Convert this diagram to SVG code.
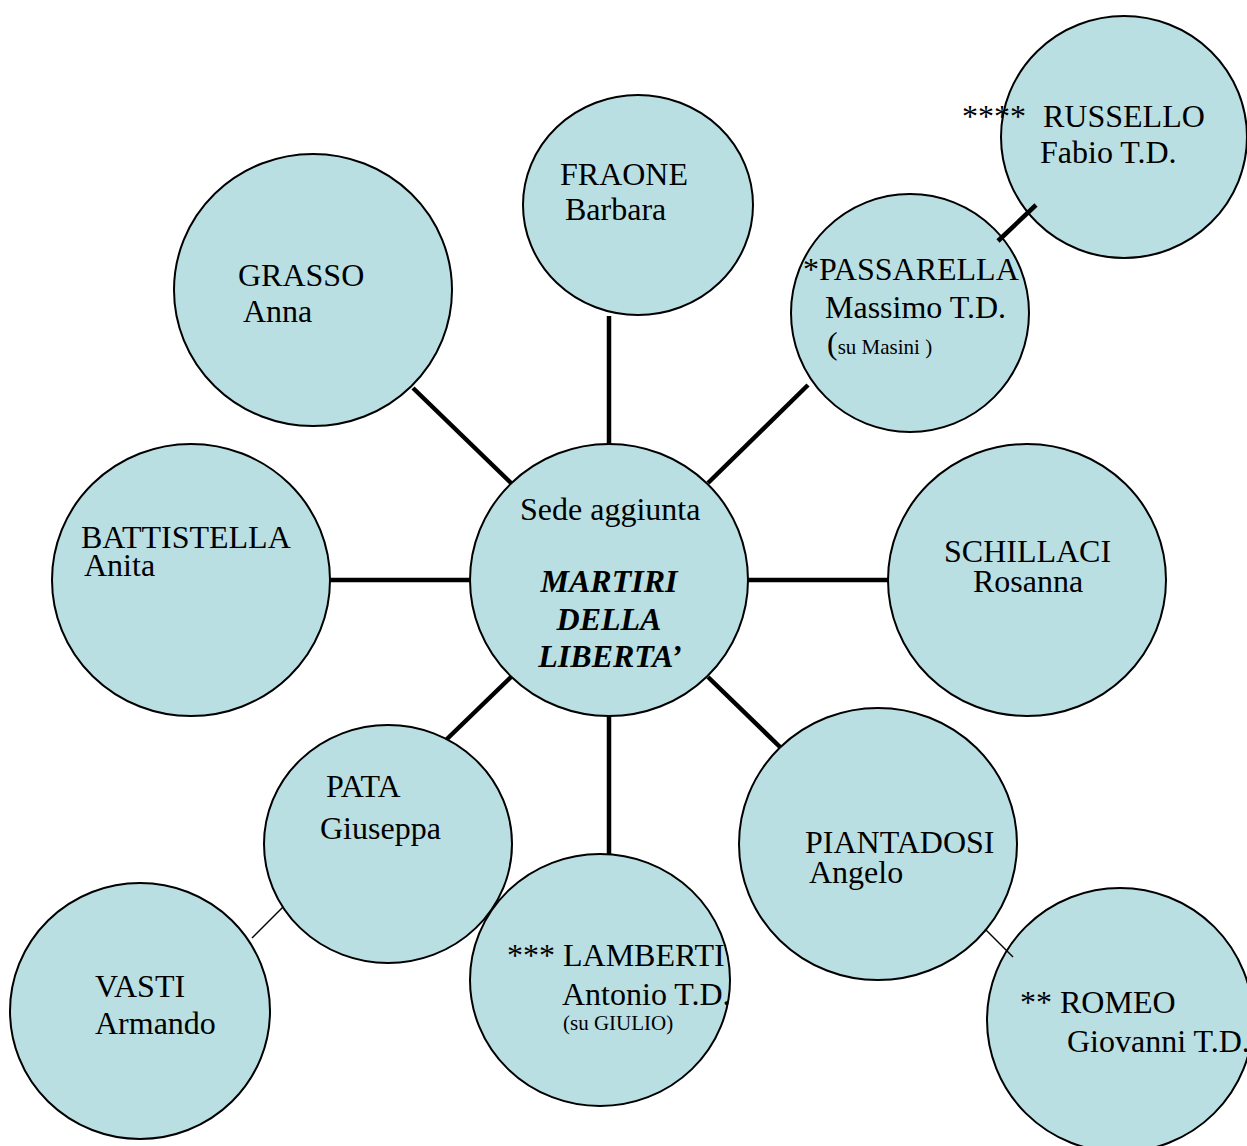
<svg xmlns="http://www.w3.org/2000/svg" width="1247" height="1146" viewBox="0 0 1247 1146">
<style>
.n{fill:#b9dfe3;stroke:#000;stroke-width:2}
.t{font-family:"Liberation Serif","Times New Roman",serif;font-size:32px;fill:#000}
.s{font-size:21px}
.bi{font-weight:bold;font-style:italic;text-anchor:middle}
.thick{stroke:#000;stroke-width:4.5;fill:none}
.thin{stroke:#000;stroke-width:1.5;fill:none}
</style>
<rect width="1247" height="1146" fill="#fff"/>
<g id="nodes">
<g id="center"><ellipse class="n" cx="609" cy="580" rx="139" ry="136"/>
<text class="t" x="520" y="520">Sede aggiunta</text>
<text class="t bi" x="609" y="592">MARTIRI</text>
<text class="t bi" x="609" y="630">DELLA</text>
<text class="t bi" x="610" y="667">LIBERTA’</text></g>
<g id="fraone"><ellipse class="n" cx="638" cy="205" rx="115" ry="110"/>
<text class="t" x="560" y="185">FRAONE</text><text class="t" x="565" y="220">Barbara</text></g>
<g id="grasso"><ellipse class="n" cx="313" cy="290" rx="139" ry="136"/>
<text class="t" x="238" y="286">GRASSO</text><text class="t" x="243" y="322">Anna</text></g>
<g id="passarella"><ellipse class="n" cx="910" cy="313" rx="119" ry="119"/>
<text class="t" x="803" y="280">*PASSARELLA</text><text class="t" x="825" y="318">Massimo T.D.</text>
<text class="t" x="827" y="354">(<tspan class="s">su Masini )</tspan></text></g>
<g id="russello"><ellipse class="n" cx="1124" cy="137" rx="123" ry="121"/>
<text class="t" x="962" y="127">****<tspan x="1043">RUSSELLO</tspan></text><text class="t" x="1040" y="163">Fabio T.D.</text></g>
<g id="battistella"><ellipse class="n" cx="191" cy="580" rx="139" ry="136"/>
<text class="t" x="81" y="548">BATTISTELLA</text><text class="t" x="84" y="576">Anita</text></g>
<g id="schillaci"><ellipse class="n" cx="1027" cy="580" rx="139" ry="136"/>
<text class="t" x="944" y="562">SCHILLACI</text><text class="t" x="973" y="592">Rosanna</text></g>
<g id="pata"><ellipse class="n" cx="388" cy="844" rx="124" ry="119"/>
<text class="t" x="326" y="797">PATA</text><text class="t" x="320" y="839">Giuseppa</text></g>
<g id="lamberti"><ellipse class="n" cx="600" cy="980" rx="130" ry="126"/>
<text class="t" x="507" y="966">*** LAMBERTI</text><text class="t" x="562" y="1005">Antonio T.D.</text>
<text class="t s" x="563" y="1030">(su GIULIO)</text></g>
<g id="piantadosi"><ellipse class="n" cx="878" cy="844" rx="139" ry="136"/>
<text class="t" x="805" y="853">PIANTADOSI</text><text class="t" x="809" y="883">Angelo</text></g>
<g id="romeo"><ellipse class="n" cx="1120" cy="1020" rx="133" ry="132"/>
<text class="t" x="1020" y="1013">** ROMEO</text><text class="t" x="1067" y="1052">Giovanni T.D.</text></g>
<g id="vasti"><ellipse class="n" cx="140" cy="1011" rx="130" ry="128"/>
<text class="t" x="95" y="997">VASTI</text><text class="t" x="95" y="1034">Armando</text></g>
</g>
<g id="connectors">
<line class="thick" x1="609" y1="316" x2="609" y2="444"/>
<line class="thick" x1="413" y1="388" x2="511" y2="483"/>
<line class="thick" x1="808" y1="385" x2="708" y2="483"/>
<line class="thick" x1="330" y1="580" x2="470" y2="580"/>
<line class="thick" x1="748" y1="580" x2="888" y2="580"/>
<line class="thick" x1="511" y1="677" x2="447" y2="739"/>
<line class="thick" x1="609" y1="716" x2="609" y2="855"/>
<line class="thick" x1="708" y1="677" x2="780" y2="747"/>
<line class="thick" x1="998" y1="241" x2="1036" y2="205"/>
<line class="thin" x1="283" y1="907" x2="252" y2="938"/>
<line class="thin" x1="985" y1="929" x2="1013" y2="957"/>
</g>
</svg>
